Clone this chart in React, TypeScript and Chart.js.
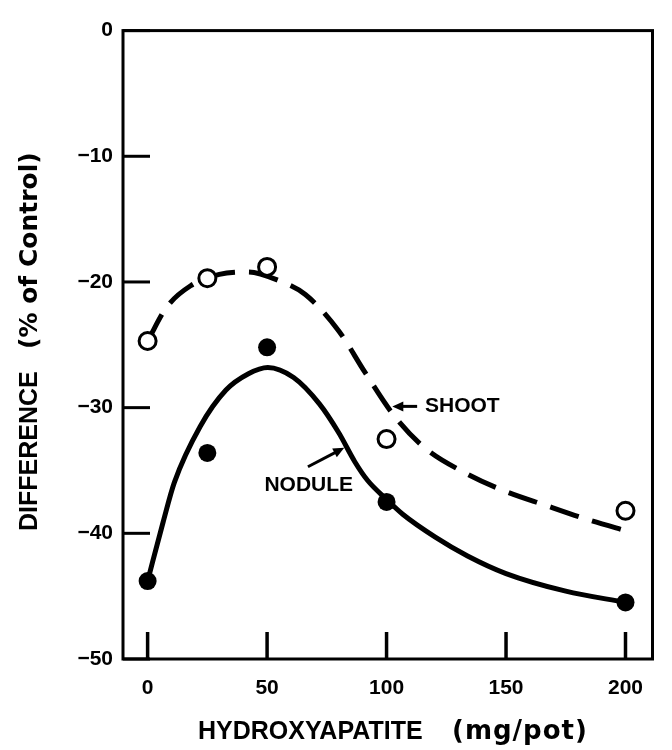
import React, { useEffect, useRef } from "react";
import { Chart, registerables } from "chart.js";

Chart.register(...registerables);

// Observed points
const hydroxyapatite = [0, 25, 50, 100, 200];
const shootObserved = [-24.7, -19.7, -18.8, -32.5, -38.2];
const noduleObserved = [-43.8, -33.6, -25.2, -37.5, -45.5];

// Fitted curves
const shootCurveX = [0, 8, 18, 30, 42, 55, 66, 80, 91, 103, 116, 133, 149, 167, 184, 202];
const shootCurveY = [-24.7, -22.0, -20.3, -19.4, -19.2, -19.9, -21.0, -23.9, -27.2, -30.6, -33.2, -35.2, -36.6, -37.8, -38.9, -39.9];
const noduleCurveX = [0, 6.5, 11.2, 22, 32.8, 42.2, 50.3, 61.1, 71.9, 80, 86.7, 92.1, 100, 106.9, 120.4, 133.9, 150, 175, 200];
const noduleCurveY = [-43.8, -39.1, -35.95, -31.5, -28.6, -27.3, -26.8, -27.6, -29.7, -32.0, -34.3, -35.8, -37.3, -38.5, -40.3, -41.8, -43.2, -44.6, -45.5];

// Axis ticks
const xTicks = [0, 50, 100, 150, 200];
const yTicks = [0, -10, -20, -30, -40, -50];

// Labels
const xTitleMain = "HYDROXYAPATITE";
const xTitleUnit = "(mg/pot)";
const yTitleMain = "DIFFERENCE";
const yTitleUnit = "(% of Control)";
const shootLabel = "SHOOT";
const noduleLabel = "NODULE";

const FONT = '"Liberation Sans", Arial, sans-serif';
const FONT_WIDE = '"DejaVu Sans", sans-serif';

function arrow(ctx: CanvasRenderingContext2D, x1: number, y1: number, x2: number, y2: number) {
  const ang = Math.atan2(y2 - y1, x2 - x1);
  const head = 11;
  const hw = 5;
  ctx.beginPath();
  ctx.moveTo(x1, y1);
  ctx.lineTo(x2 - Math.cos(ang) * head * 0.8, y2 - Math.sin(ang) * head * 0.8);
  ctx.lineWidth = 3;
  ctx.stroke();
  ctx.beginPath();
  ctx.moveTo(x2, y2);
  ctx.lineTo(x2 - Math.cos(ang) * head - Math.sin(ang) * hw, y2 - Math.sin(ang) * head + Math.cos(ang) * hw);
  ctx.lineTo(x2 - Math.cos(ang) * head + Math.sin(ang) * hw, y2 - Math.sin(ang) * head - Math.cos(ang) * hw);
  ctx.closePath();
  ctx.fill();
}

const decorPlugin = {
  id: "decor",
  beforeDatasetsDraw(chart: any) {
    const { ctx, chartArea } = chart;
    const xs = chart.scales.x;
    const ys = chart.scales.y;
    ctx.save();
    ctx.strokeStyle = "#000";
    ctx.lineWidth = 3;
    ctx.strokeRect(chartArea.left, chartArea.top, chartArea.right - chartArea.left, chartArea.bottom - chartArea.top);
    ctx.lineWidth = 3.5;
    xTicks.forEach((v) => {
      const px = xs.getPixelForValue(v);
      ctx.beginPath();
      ctx.moveTo(px, chartArea.bottom);
      ctx.lineTo(px, chartArea.bottom - 27);
      ctx.stroke();
    });
    ctx.lineWidth = 3;
    yTicks.forEach((v) => {
      const py = ys.getPixelForValue(v);
      ctx.beginPath();
      ctx.moveTo(chartArea.left, py);
      ctx.lineTo(chartArea.left + 27, py);
      ctx.stroke();
    });
    ctx.restore();
  },
  afterDatasetsDraw(chart: any) {
    const { ctx, chartArea } = chart;
    const xs = chart.scales.x;
    const ys = chart.scales.y;
    ctx.save();
    ctx.fillStyle = "#000";
    ctx.strokeStyle = "#000";
    // SHOOT annotation
    ctx.font = `bold 21px ${FONT}`;
    ctx.textBaseline = "middle";
    ctx.textAlign = "left";
    ctx.fillText(shootLabel, xs.getPixelForValue(116.1), ys.getPixelForValue(-29.9));
    arrow(ctx, xs.getPixelForValue(112.8), ys.getPixelForValue(-29.9), xs.getPixelForValue(102.4), ys.getPixelForValue(-29.9));
    // NODULE annotation
    ctx.fillText(noduleLabel, xs.getPixelForValue(48.9), ys.getPixelForValue(-36.2));
    arrow(ctx, xs.getPixelForValue(67.1), ys.getPixelForValue(-34.7), xs.getPixelForValue(82.3), ys.getPixelForValue(-33.2));

    // X axis title
    const xt = chartArea.bottom + 73;
    ctx.font = `bold 25px ${FONT}`;
    ctx.fillText(xTitleMain, chartArea.left + 75, xt);
    ctx.font = `bold 26px ${FONT_WIDE}`;
    (ctx as any).letterSpacing = "1px";
    ctx.fillText(xTitleUnit, chartArea.left + 329, xt);
    (ctx as any).letterSpacing = "0px";

    // Y axis title (rotated)
    ctx.save();
    ctx.translate(chartArea.left - 93, chartArea.bottom - 128);
    ctx.rotate(-Math.PI / 2);
    ctx.textAlign = "left";
    ctx.font = `bold 25px ${FONT}`;
    ctx.fillText(yTitleMain, 0, 0);
    ctx.font = `bold 25px ${FONT_WIDE}`;
    ctx.fillText(yTitleUnit, 182, 0);
    ctx.restore();
    ctx.restore();
  },
};

export default function App() {
  const ref = useRef<HTMLCanvasElement | null>(null);
  useEffect(() => {
    if (!ref.current) return;
    const chart = new Chart(ref.current, {
      type: "line",
      data: {
        datasets: [
          {
            label: "Shoot observed",
            data: hydroxyapatite.map((x, i) => ({ x, y: shootObserved[i] })),
            showLine: false,
            pointRadius: 8.5,
            pointBorderWidth: 3,
            pointBackgroundColor: "#fff",
            pointBorderColor: "#000",
            order: 0,
          },
          {
            label: "Nodule observed",
            data: hydroxyapatite.map((x, i) => ({ x, y: noduleObserved[i] })),
            showLine: false,
            pointRadius: 9,
            pointBorderWidth: 0,
            pointBackgroundColor: "#000",
            pointBorderColor: "#000",
            order: 0,
          },
          {
            label: "Shoot fit",
            data: shootCurveX.map((x, i) => ({ x, y: shootCurveY[i] })),
            borderColor: "#000",
            borderWidth: 5,
            borderDash: [30, 14],
            pointRadius: 0,
            cubicInterpolationMode: "monotone",
            fill: false,
            order: 1,
          },
          {
            label: "Nodule fit",
            data: noduleCurveX.map((x, i) => ({ x, y: noduleCurveY[i] })),
            borderColor: "#000",
            borderWidth: 5,
            pointRadius: 0,
            cubicInterpolationMode: "monotone",
            fill: false,
            order: 1,
          },
        ],
      },
      options: {
        animation: false,
        responsive: true,
        maintainAspectRatio: false,
        layout: { padding: { top: 14, right: 1, left: 0, bottom: 0 } },
        plugins: { legend: { display: false }, tooltip: { enabled: false } },
        scales: {
          x: {
            type: "linear",
            min: -10.3,
            max: 211.3,
            grid: { display: false, drawTicks: false },
            border: { display: false },
            afterBuildTicks: (s: any) => {
              s.ticks = xTicks.map((v) => ({ value: v }));
            },
            afterFit: (s: any) => {
              s.height = 91;
            },
            ticks: {
              padding: 17,
              color: "#000",
              font: { family: FONT, size: 21, weight: "bold" },
              maxRotation: 0,
              autoSkip: false,
            },
          },
          y: {
            type: "linear",
            min: -50,
            max: 0,
            grid: { display: false, drawTicks: false },
            border: { display: false },
            afterBuildTicks: (s: any) => {
              s.ticks = yTicks.map((v) => ({ value: v }));
            },
            afterFit: (s: any) => {
              s.width = 115;
            },
            ticks: {
              padding: 10,
              color: "#000",
              font: { family: FONT, size: 21, weight: "bold" },
              callback: (v: any) => (v === 0 ? "0" : "\u2212" + Math.abs(v)),
            },
          },
        },
      },
      plugins: [decorPlugin],
    } as any);
    return () => chart.destroy();
  }, []);
  return (
    <div style={{ position: "relative", width: 656, height: 742 }}>
      <canvas ref={ref} />
    </div>
  );
}
